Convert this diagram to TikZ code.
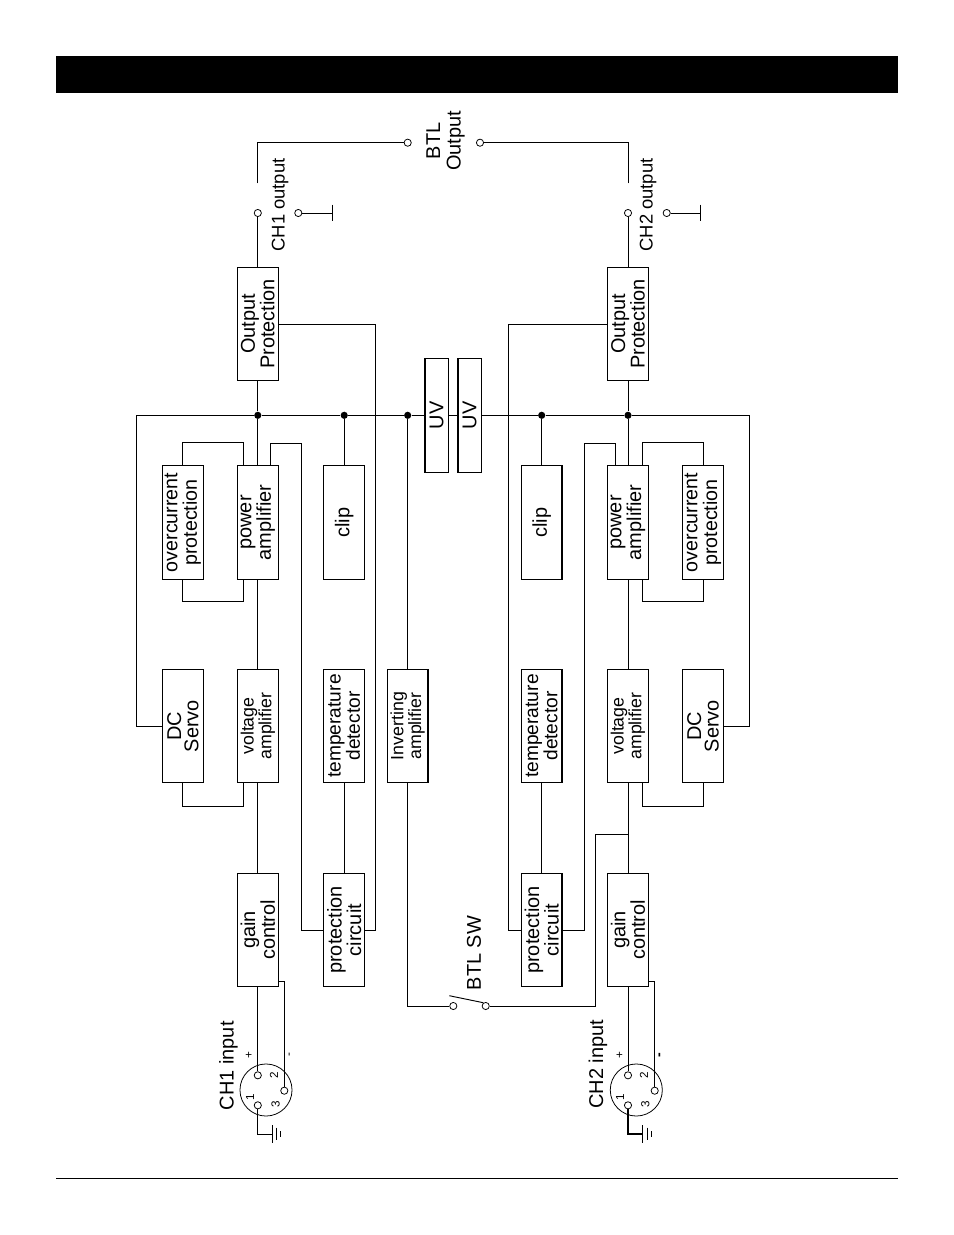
\documentclass[tikz,border=0pt]{standalone}
\usepackage{fontspec}
\setmainfont{Liberation Sans}
\usetikzlibrary{positioning}
\tikzset{
  blk/.style={draw,fill=white,rotate=90,minimum width=72.9pt,minimum height=26pt,inner sep=0pt,align=center,line width=.7pt,font=\fontsize{12.8}{12.6}\selectfont},
  blkmd/.style={blk,font=\fontsize{12.3}{12.4}\selectfont},
  blksm/.style={blk,font=\fontsize{11.4}{11.4}\selectfont},
  uvblk/.style={blk,minimum height=15pt},
  lbl/.style={rotate=90,inner sep=0pt,align=center,font=\fontsize{12.8}{13.2}\selectfont},
  lblsm/.style={rotate=90,inner sep=0pt,font=\fontsize{7.5}{8}\selectfont},
  term/.style={circle,draw,fill=white,minimum size=4.6pt,inner sep=0pt,line width=.5pt},
  junct/.style={circle,fill=black,minimum size=4.6pt,inner sep=0pt},
  xlr/.style={circle,draw,minimum size=33.4pt,inner sep=0pt,line width=.5pt}
}
\begin{document}
\begin{tikzpicture}[x=.6415pt,y=-.6415pt,line width=.6pt]
\useasboundingbox (0,0) rectangle (954,1235);
\fill (56,56) rectangle (898,93);
\draw[line width=.5pt] (56,1178)--(898,1178);
% CH1 blocks
\node[blk] (oprot1) at (257.8,324) {Output\\Protection};
\node[blk] (pamp1) at (257.8,522.5) {power\\amplifier};
\node[blk,font=\fontsize{12.6}{12.6}\selectfont] (ocur1) at (182.8,522.5) {overcurrent\\protection};
\node[blk] (clip1) at (344.2,522.5) {clip};
\node[blk] (servo1) at (182.8,726) {DC\\[-1.5pt]Servo};
\node[blksm] (vamp1) at (257.8,726) {voltage\\amplifier};
\node[blkmd] (temp1) at (344.2,726) {temperature\\detector};
\node[blk] (prot1) at (344.2,930) {protection\\circuit};
\node[blk] (gain1) at (257.8,930) {gain\\control};
% CH2 blocks
\node[blk] (oprot2) at (628,324) {Output\\Protection};
\node[blk] (pamp2) at (628,522.5) {power\\amplifier};
\node[blk,font=\fontsize{12.6}{12.6}\selectfont] (ocur2) at (703,522.5) {overcurrent\\protection};
\node[blk] (clip2) at (541.7,522.5) {clip};
\node[blk] (servo2) at (703,726) {DC\\[-1.5pt]Servo};
\node[blksm] (vamp2) at (628,726) {voltage\\amplifier};
\node[blkmd] (temp2) at (541.7,726) {temperature\\detector};
\node[blk] (prot2) at (541.7,930) {protection\\circuit};
\node[blk] (gain2) at (628,930) {gain\\control};
% middle
\node[blksm] (inv) at (407.7,726) {Inverting\\amplifier};
\node[uvblk] (uv1) at (436.7,415.3) {UV};
\node[uvblk] (uv2) at (469.7,415.3) {UV};
% bus
\node[junct] (j1) at (257.8,415.3) {};
\node[junct] (j2) at (344.2,415.3) {};
\node[junct] (j3) at (407.7,415.3) {};
\node[junct] (j4) at (541.7,415.3) {};
\node[junct] (j5) at (628,415.3) {};
\coordinate (busl) at (136.5,415.3);
\coordinate (busr) at (749.3,415.3);
\draw (servo1.north) -| (busl) -- (j1) -- (j2) -- (j3) -- (uv1.north);
\draw (uv1.south) -- (uv2.north);
\draw (uv2.south) -- (j4) -- (j5) -- (busr) |- (servo2.south);
% outputs
\node[term] (out1) at (257.8,213) {};
\node[term] (gnd1) at (298.3,213) {};
\node[term] (btl1) at (407.7,142.7) {};
\node[term] (btl2) at (480,142.7) {};
\node[term] (out2) at (628,213) {};
\node[term] (gnd2) at (666.7,213) {};
\coordinate (hook1) at (257.8,183.3);
\coordinate (hook2) at (628,183.3);
\draw (oprot1.east) -- (out1);
\draw (oprot2.east) -- (out2);
\draw (hook1) |- (btl1);
\draw (hook2) |- (btl2);
\draw (gnd1) -- (332.7,213) coordinate (bar1) (bar1)++(0,-8.3) -- ++(0,16.6);
\draw (gnd2) -- (700.3,213) coordinate (bar2) (bar2)++(0,-8.3) -- ++(0,16.6);
\node[lbl] (btllbl) at (445.5,141) {BTL\\Output};
\node[lbl,font=\fontsize{11.8}{12}\selectfont] (out1lbl) at (280,205) {CH1 output};
\node[lbl,font=\fontsize{11.8}{12}\selectfont] (out2lbl) at (648,205) {CH2 output};
% signal path
\draw (oprot1.west) -- (j1) -- (pamp1.east);
\draw (pamp1.west) -- (vamp1.east);
\draw (vamp1.west) -- (gain1.east);
\draw (oprot2.west) -- (j5) -- (pamp2.east);
\draw (pamp2.west) -- (vamp2.east);
\draw (vamp2.west) -- (gain2.east);
\draw (j2) -- (clip1.east);
\draw (j4) -- (clip2.east);
\draw (temp1.west) -- (prot1.east);
\draw (temp2.west) -- (prot2.east);
\draw (oprot1.south) -| (375.7,930) -- (prot1.south);
\draw (oprot2.north) -| (508.3,930) -- (prot2.north);
\coordinate (tap1) at (270,465.7);
\coordinate (tap2) at (615.7,465.7);
\draw (prot1.north) -| (301.3,443.3) -| (tap1);
\draw (prot2.south) -| (584.7,443.3) -| (tap2);
% feedback loops
\coordinate (pal1) at (243.3,465.7);
\coordinate (pbl1) at (243.3,579.3);
\coordinate (val1) at (243.3,782.7);
\coordinate (pal2) at (642.3,465.7);
\coordinate (pbl2) at (642.3,579.3);
\coordinate (val2) at (642.3,782.7);
\draw (ocur1.east) -- ++(0,-22.4) -| (pal1);
\draw (ocur1.west) -- ++(0,22) -| (pbl1);
\draw (servo1.west) -- ++(0,23) -| (val1);
\draw (ocur2.east) -- ++(0,-22.4) -| (pal2);
\draw (ocur2.west) -- ++(0,22) -| (pbl2);
\draw (servo2.west) -- ++(0,23) -| (val2);
% BTL switch
\node[term] (sw1) at (453.3,1006) {};
\node[term] (sw2) at (485.7,1006) {};
\coordinate (jn) at (628,834);
\draw (j3) -- (inv.east);
\draw (inv.west) |- (sw1);
\draw (sw2) -| (595,834) -- (jn);
\draw (449.3,995.7) -- (483.3,1002.7);
\node[lbl] (swlbl) at (474,953) {BTL SW};
% CH1 input
\node[xlr] (xlr1) at (266,1090) {};
\node[term] (p11) at (257.8,1105.3) {};
\node[term] (p12) at (257.8,1075.3) {};
\node[term] (p13) at (284.3,1090.7) {};
\draw (gain1.west) -- (p12);
\draw (278,981.3) -| (p13);
\draw (p11) |- (272,1134) coordinate (g1);
\draw (g1)++(0,-9) -- ++(0,17.7);
\draw (g1)++(4.3,-6.3) -- ++(0,12.3);
\draw (g1)++(8.7,-2.7) -- ++(0,6);
\node[lbl] (in1lbl) at (228.5,1065.7) {CH1 input};
\node[lblsm] (plus1) at (249.3,1055) {+};
\node[lblsm] (minus1) at (290.7,1055) {-};
\node[lblsm] (n11) at (250,1097.7) {1};
\node[lblsm] (n12) at (274,1075.7) {2};
\node[lblsm] (n13) at (275.7,1104.7) {3};
% CH2 input
\node[xlr] (xlr2) at (636.3,1090) {};
\node[term] (p21) at (628,1105.3) {};
\node[term] (p22) at (628,1075.3) {};
\node[term] (p23) at (654.7,1090.7) {};
\draw (gain2.west) -- (p22);
\draw (648.3,981.3) -| (p23);
\draw[line width=1pt] (p21) |- (642.7,1134) coordinate (g2);
\draw (g2)++(0,-9) -- ++(0,17.7);
\draw (g2)++(4.3,-6.3) -- ++(0,12.3);
\draw (g2)++(8.7,-2.7) -- ++(0,6);
\node[lbl] (in2lbl) at (598,1064.2) {CH2 input};
\node[lblsm] (plus2) at (620,1055) {+};
\node[lblsm,font=\fontsize{9}{9}\bfseries\selectfont] (minus2) at (661,1055) {-};
\node[lblsm] (n21) at (620,1097.7) {1};
\node[lblsm] (n22) at (644,1075.7) {2};
\node[lblsm] (n23) at (645.3,1104.7) {3};
\end{tikzpicture}
\end{document}
